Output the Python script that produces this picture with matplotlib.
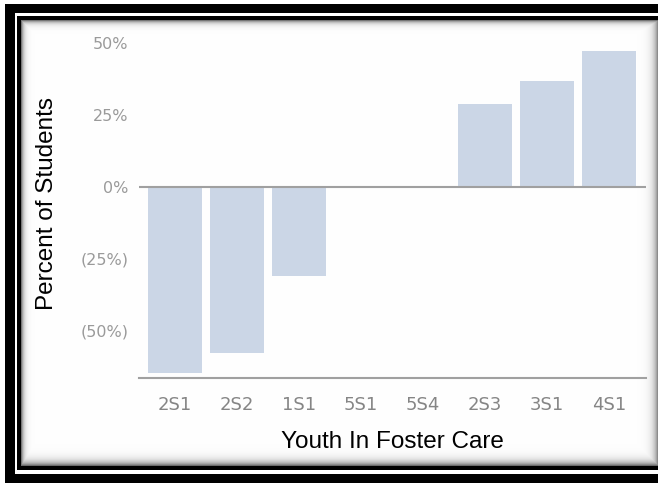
import matplotlib
matplotlib.use("Agg")
import matplotlib.pyplot as plt
import matplotlib.patches as patches
import numpy as np

# data
schools = ["2S1", "2S2", "1S1", "5S1", "5S4", "2S3", "3S1", "4S1"]
pct_change = [-64.6, -57.6, -30.9, 0.0, 0.0, 28.7, 36.7, 47.2]
ytick_vals = [50, 25, 0, -25, -50]
ytick_text = ["50%", "25%", "0%", "(25%)", "(50%)"]

W, H = 658, 483
fig = plt.figure(figsize=(W / 100, H / 100), dpi=100)
fig.patch.set_facecolor("white")

# frame drawn in pixel coordinates
bg = fig.add_axes([0, 0, 1, 1], zorder=-1)
bg.set_xlim(0, W)
bg.set_ylim(H, 0)
bg.axis("off")

bg.add_patch(patches.Rectangle((5, 4), 700, 600, color="black", lw=0))
bg.add_patch(patches.Rectangle((15, 13), 700, 461, color="white", lw=0))
bg.add_patch(patches.Rectangle((17, 16), 700, 454, color="black", lw=0))

# inner panel with soft inset shadow
x0, y0, x1, y1 = 21, 20, 659, 466
xs = np.arange(x0, x1) + 0.5
ys = np.arange(y0, y1) + 0.5
X, Y = np.meshgrid(xs, ys)
shade = np.maximum.reduce([
    np.exp(-(X - x0) / 2.5),
    np.exp(-(Y - y0) / 2.5),
    np.exp(-(x1 - X) / 4.0),
    np.exp(-(y1 - Y) / 4.0),
])
grey = 0.995 - 0.65 * shade
bg.imshow(grey, cmap="gray", vmin=0, vmax=1, extent=(x0, x1, y1, y0),
          interpolation="bilinear", aspect="auto", zorder=3)
bg.set_xlim(0, W)
bg.set_ylim(H, 0)

# chart area
left, right = 139.3, 646.0
ax_top, ax_bot = 37.0, 378.3
ax = fig.add_axes([left / W, 1 - ax_bot / H, (right - left) / W, (ax_bot - ax_top) / H])
ax.set_facecolor("none")

x = np.arange(len(schools))
ax.bar(x, pct_change, width=0.87, color="#cbd6e6", zorder=2)
ax.axhline(0, color="#a0a0a0", lw=1.5, zorder=3)

ax.set_xlim(-0.58, len(schools) - 0.4)
ax.set_ylim(-66.5, 52)

for side in ["top", "right", "left"]:
    ax.spines[side].set_visible(False)
ax.spines["bottom"].set_color("#a0a0a0")
ax.spines["bottom"].set_linewidth(1.5)

ax.set_yticks(ytick_vals)
ax.set_yticklabels(ytick_text, fontsize=11.5, color="#9a9a9a", family="DejaVu Sans")
ax.set_xticks(x)
ax.set_xticklabels(schools, fontsize=13, color="#858585", family="DejaVu Sans")
ax.tick_params(axis="y", length=0, pad=8)
ax.tick_params(axis="x", length=0, pad=13)

fig.text(392 / W, 1 - 442 / H, "Youth In Foster Care", ha="center", va="center",
         fontsize=17.5, family="Liberation Sans", color="black")
fig.text(47 / W, 1 - 203 / H, "Percent of Students", ha="center", va="center",
         rotation=90, fontsize=17.5, family="Liberation Sans", color="black")

fig.savefig("out.png", dpi=100)
